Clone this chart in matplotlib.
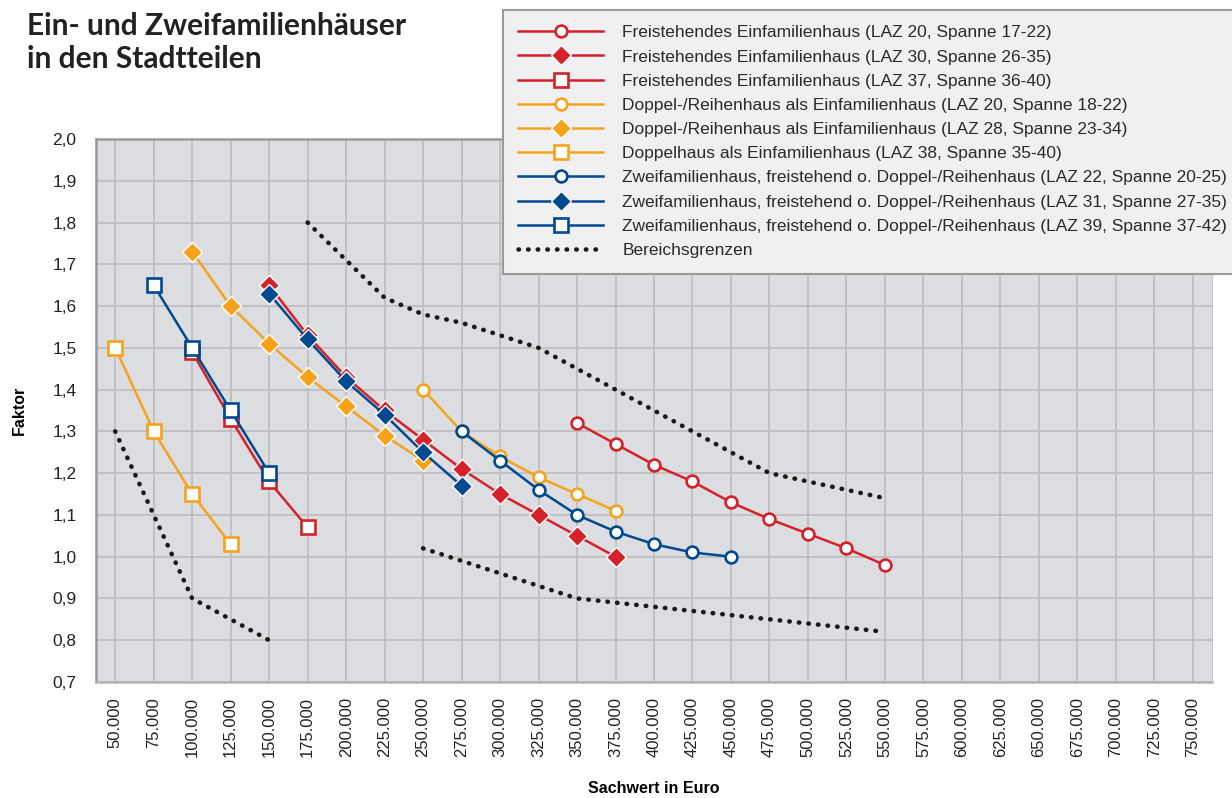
import numpy as np
import matplotlib
matplotlib.use("Agg")
import matplotlib.pyplot as plt
from matplotlib.ticker import FuncFormatter, FixedLocator

# x categories (Sachwert in Euro)
x_ticks = list(range(50000, 750001, 25000))

# Freistehendes Einfamilienhaus
efh20_x = [350000, 375000, 400000, 425000, 450000, 475000, 500000, 525000, 550000]
efh20_y = [1.32, 1.27, 1.22, 1.18, 1.13, 1.09, 1.055, 1.02, 0.98]
efh30_x = [150000, 175000, 200000, 225000, 250000, 275000, 300000, 325000, 350000, 375000]
efh30_y = [1.65, 1.53, 1.43, 1.35, 1.28, 1.21, 1.15, 1.10, 1.05, 1.00]
efh37_x = [100000, 125000, 150000, 175000]
efh37_y = [1.49, 1.33, 1.18, 1.07]

# Doppel-/Reihenhaus
drh20_x = [250000, 275000, 300000, 325000, 350000, 375000]
drh20_y = [1.40, 1.30, 1.24, 1.19, 1.15, 1.11]
drh28_x = [100000, 125000, 150000, 175000, 200000, 225000, 250000]
drh28_y = [1.73, 1.60, 1.51, 1.43, 1.36, 1.29, 1.23]
dh38_x = [50000, 75000, 100000, 125000]
dh38_y = [1.50, 1.30, 1.15, 1.03]

# Zweifamilienhaus
zfh22_x = [275000, 300000, 325000, 350000, 375000, 400000, 425000, 450000]
zfh22_y = [1.30, 1.23, 1.16, 1.10, 1.06, 1.03, 1.01, 1.00]
zfh31_x = [150000, 175000, 200000, 225000, 250000, 275000]
zfh31_y = [1.63, 1.52, 1.42, 1.34, 1.25, 1.17]
zfh39_x = [75000, 100000, 125000, 150000]
zfh39_y = [1.65, 1.50, 1.35, 1.20]

# Bereichsgrenzen
grenze_oben_x = [175000, 200000, 225000, 250000, 275000, 300000, 325000, 350000,
                 375000, 400000, 425000, 450000, 475000, 500000, 525000, 550000]
grenze_oben_y = [1.80, 1.71, 1.62, 1.58, 1.56, 1.53, 1.50, 1.45,
                 1.40, 1.35, 1.30, 1.25, 1.20, 1.18, 1.16, 1.14]
grenze_unten_x = [250000, 275000, 300000, 325000, 350000, 375000, 400000,
                  425000, 450000, 475000, 500000, 525000, 550000]
grenze_unten_y = [1.02, 0.99, 0.96, 0.93, 0.90, 0.89, 0.88,
                  0.87, 0.86, 0.85, 0.84, 0.83, 0.82]
grenze_links_x = [50000, 75000, 100000, 125000, 150000]
grenze_links_y = [1.30, 1.10, 0.90, 0.85, 0.80]

red = "#d3222a"
orange = "#f6a31b"
blue = "#00498f"
sans = ["Liberation Sans", "DejaVu Sans"]

fig = plt.figure(figsize=(12.32, 7.98), dpi=100)
ax = fig.add_axes([0.0779, 0.1454, 0.9059, 0.6804])
ax.set_facecolor("#dcdde0")

circle = dict(marker="o", markersize=8.5, markerfacecolor="white", markeredgewidth=1.9)
diamond = dict(marker="D", markersize=10.5, markeredgecolor="white", markeredgewidth=1.0)
square = dict(marker="s", markersize=10, markerfacecolor="white", markeredgewidth=1.9)

series = [
    (efh20_x, efh20_y, red, circle, "Freistehendes Einfamilienhaus (LAZ 20, Spanne 17-22)"),
    (efh30_x, efh30_y, red, diamond, "Freistehendes Einfamilienhaus (LAZ 30, Spanne 26-35)"),
    (efh37_x, efh37_y, red, square, "Freistehendes Einfamilienhaus (LAZ 37, Spanne 36-40)"),
    (drh20_x, drh20_y, orange, circle, "Doppel-/Reihenhaus als Einfamilienhaus (LAZ 20, Spanne 18-22)"),
    (drh28_x, drh28_y, orange, diamond, "Doppel-/Reihenhaus als Einfamilienhaus (LAZ 28, Spanne 23-34)"),
    (dh38_x, dh38_y, orange, square, "Doppelhaus als Einfamilienhaus (LAZ 38, Spanne 35-40)"),
    (zfh22_x, zfh22_y, blue, circle, "Zweifamilienhaus, freistehend o. Doppel-/Reihenhaus (LAZ 22, Spanne 20-25)"),
    (zfh31_x, zfh31_y, blue, diamond, "Zweifamilienhaus, freistehend o. Doppel-/Reihenhaus (LAZ 31, Spanne 27-35)"),
    (zfh39_x, zfh39_y, blue, square, "Zweifamilienhaus, freistehend o. Doppel-/Reihenhaus (LAZ 39, Spanne 37-42)"),
]

dot = dict(color="#1a1a1a", linestyle=(0, (0.1, 2.0)), linewidth=3.3,
           dash_capstyle="round", zorder=2)
ax.plot(grenze_links_x, grenze_links_y, **dot)
ax.plot(grenze_unten_x, grenze_unten_y, **dot)

handles = []
for xs, ys, col, mk, lab in series:
    kw = dict(mk)
    if mk is diamond:
        kw["markerfacecolor"] = col
    else:
        kw["markeredgecolor"] = col
    (h,) = ax.plot(xs, ys, color=col, linewidth=1.8, label=lab, zorder=3, **kw)
    handles.append(h)

(hb,) = ax.plot(grenze_oben_x, grenze_oben_y, label="Bereichsgrenzen", **dot)
handles.append(hb)

ax.set_xlim(37500, 762500)
ax.set_ylim(0.7, 2.0)
ax.xaxis.set_major_locator(FixedLocator(x_ticks))
ax.set_yticks(np.arange(0.7, 2.001, 0.1))
ax.xaxis.set_major_formatter(FuncFormatter(lambda v, p: f"{int(v):,}".replace(",", ".")))
ax.yaxis.set_major_formatter(FuncFormatter(lambda v, p: f"{v:.1f}".replace(".", ",")))
ax.grid(True, color="#bfbfc1", linewidth=1.3)
ax.set_axisbelow(True)
ax.tick_params(axis="both", length=0, colors="#222222")
ax.tick_params(axis="x", pad=11)
ax.tick_params(axis="y", pad=14)
for t in ax.get_xticklabels():
    t.set_rotation(90)
    t.set_fontsize(12)
    t.set_family(sans)
for t in ax.get_yticklabels():
    t.set_fontsize(12.5)
    t.set_family(sans)

for s in ["left", "top"]:
    ax.spines[s].set_color("#9a9a9a")
    ax.spines[s].set_linewidth(1.8)
ax.spines["bottom"].set_color("#b5b5b5")
ax.spines["bottom"].set_linewidth(1.8)
ax.spines["right"].set_color("#c8c8c8")

ax.set_xlabel("Sachwert in Euro", fontsize=11.5, fontweight="bold",
              family=sans, labelpad=17)
ax.set_ylabel("Faktor", fontsize=11.5, fontweight="bold",
              family=sans, labelpad=18)

fig.text(0.022, 0.985, "Ein- und Zweifamilienhäuser\nin den Stadtteilen",
         ha="left", va="top", fontsize=21.5, fontweight="bold", color="#222222",
         family=["Lato", "DejaVu Sans"], linespacing=1.22)

leg = fig.legend(handles=handles, loc="upper left", bbox_to_anchor=(0.408, 0.988),
                 bbox_transform=fig.transFigure, fancybox=False, framealpha=1,
                 facecolor="#f0f0f2", edgecolor="#9a9a9a", handlelength=4.9,
                 labelspacing=0.52, borderpad=0.9, handletextpad=1.1,
                 borderaxespad=0, prop={"family": sans, "size": 12.5})
leg.get_frame().set_linewidth(1.5)
for t in leg.get_texts():
    t.set_color("#2a2a2a")

fig.savefig("out.png", dpi=100)
